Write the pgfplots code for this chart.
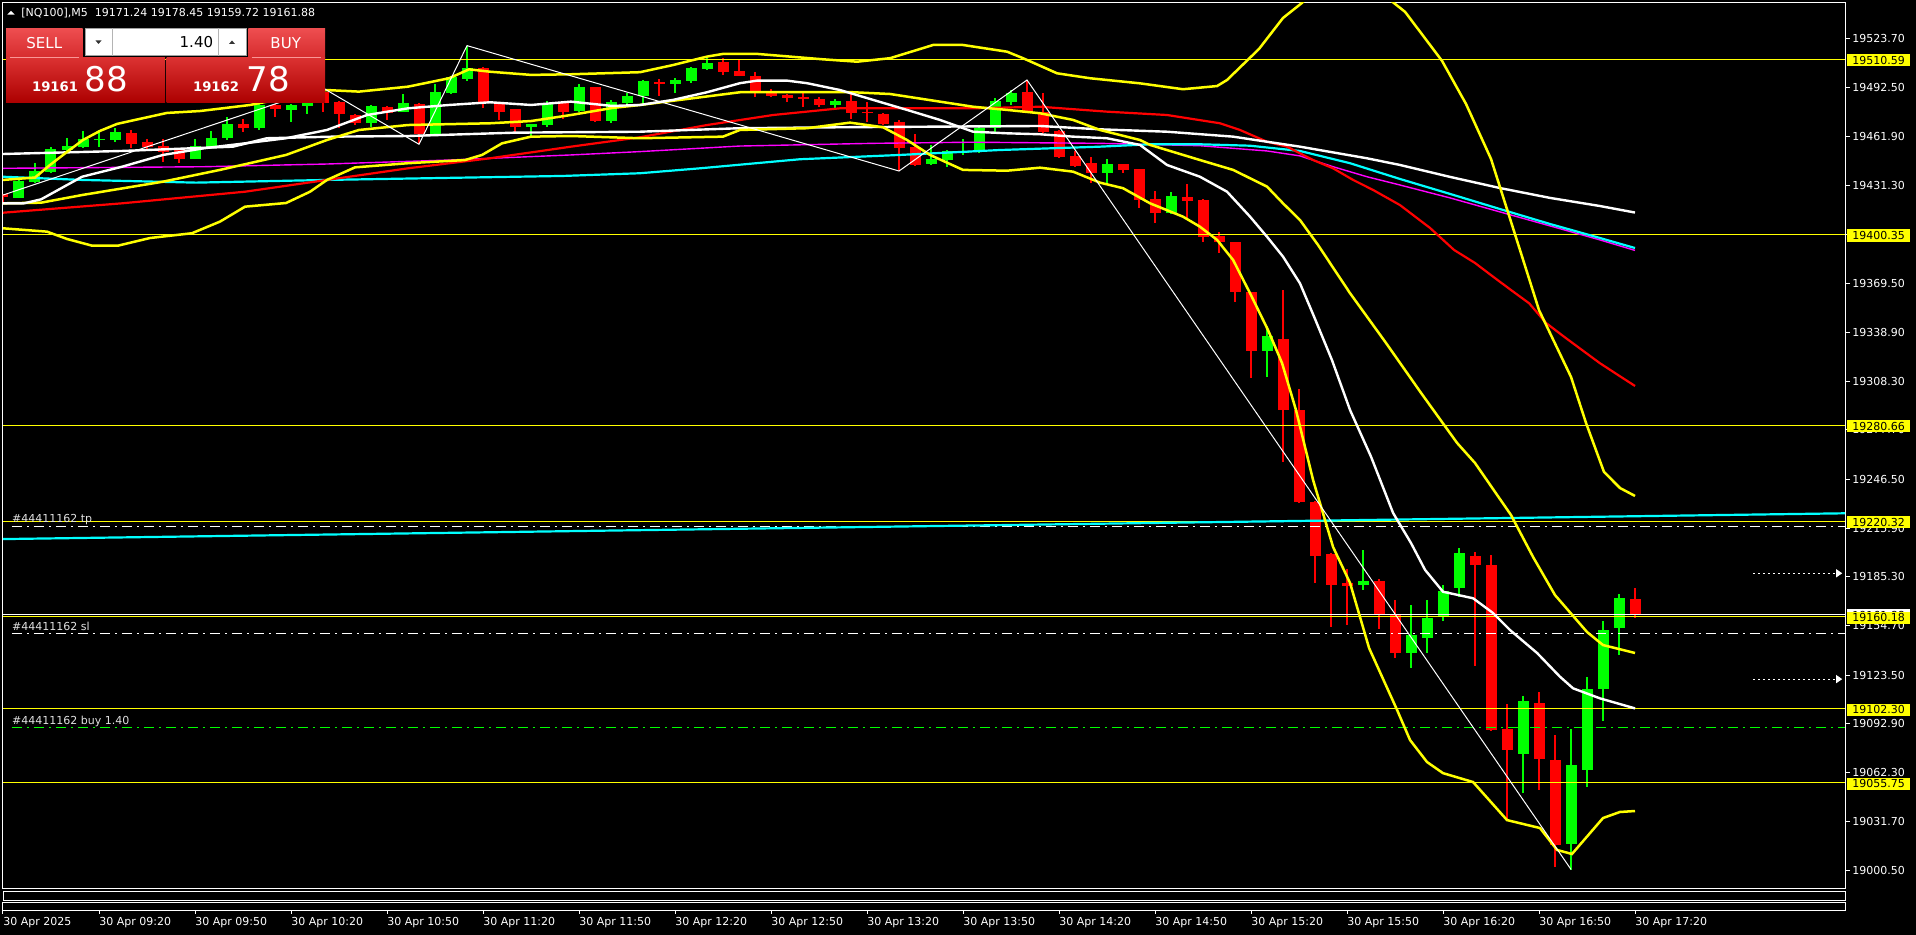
\documentclass[border=0pt]{standalone}
\usepackage{pgfplots}
\pgfplotsset{compat=1.18}
\usepackage{pgfplotstable}
\usepackage{fontspec}
\setmainfont{DejaVu Sans}
\usetikzlibrary{arrows.meta}
\newcommand\mtf{\fontsize{5.5pt}{6.5pt}\selectfont}
\definecolor{mtlime}{RGB}{0,255,0}
\definecolor{mtred}{RGB}{255,0,0}
\definecolor{mtyel}{RGB}{255,255,0}
\definecolor{mtcyan}{RGB}{0,255,255}
\definecolor{mtmag}{RGB}{255,0,255}
\definecolor{lbl}{RGB}{225,225,225}
\definecolor{btnA}{RGB}{238,78,80}
\definecolor{btnB}{RGB}{214,44,46}
\definecolor{lowA}{RGB}{220,50,50}
\definecolor{lowB}{RGB}{172,0,0}

\pgfplotstableread{
i o h l c
0 19425.7 19426.3 19421.0 19424.2
1 19423.6 19434.7 19423.2 19434.0
2 19433.6 19445.2 19432.6 19440.3
3 19439.9 19455.2 19438.9 19454.2
4 19453.5 19460.9 19453.0 19456.0
5 19455.2 19465.5 19454.6 19460.4
6 19460.0 19466.1 19455.2 19460.6
7 19459.8 19467.2 19458.7 19464.8
8 19464.0 19466.5 19454.6 19457.3
9 19458.6 19460.4 19453.5 19455.2
10 19456.0 19460.4 19446.2 19452.5
11 19454.6 19455.2 19445.5 19447.9
12 19447.9 19460.2 19447.9 19456.0
13 19455.6 19465.7 19455.2 19461.1
14 19460.9 19474.1 19460.2 19469.9
15 19470.1 19473.0 19465.0 19467.5
16 19467.2 19484.0 19466.1 19481.8
17 19481.8 19482.5 19474.5 19479.1
18 19478.7 19482.5 19471.3 19481.8
19 19481.0 19486.0 19476.0 19484.0
20 19490.0 19492.5 19477.6 19483.1
21 19483.9 19484.5 19467.2 19476.2
22 19475.5 19476.0 19469.2 19470.7
23 19470.7 19481.8 19467.8 19481.2
24 19480.4 19481.0 19472.4 19477.0
25 19477.6 19488.7 19477.6 19483.3
26 19482.4 19482.8 19457.1 19463.6
27 19463.6 19495.4 19463.0 19490.2
28 19489.2 19500.0 19489.0 19499.2
29 19498.0 19519.1 19497.0 19504.9
30 19504.9 19505.5 19479.7 19483.9
31 19482.4 19483.9 19472.4 19477.6
32 19479.1 19479.5 19465.0 19468.2
33 19468.2 19470.0 19460.9 19469.9
34 19469.2 19484.5 19468.2 19483.3
35 19483.3 19484.0 19473.4 19477.6
36 19478.2 19495.0 19477.6 19492.9
37 19492.9 19493.5 19471.5 19471.9
38 19471.9 19485.0 19470.7 19483.9
39 19483.3 19489.2 19482.5 19487.5
40 19487.5 19497.5 19481.8 19496.9
41 19496.5 19498.2 19487.5 19495.4
42 19495.0 19499.0 19489.2 19497.5
43 19497.1 19505.9 19495.8 19505.3
44 19504.4 19511.2 19504.0 19508.4
45 19508.8 19511.2 19500.7 19502.5
46 19503.2 19510.7 19500.0 19500.2
47 19500.0 19502.4 19487.0 19489.5
48 19489.2 19491.7 19486.6 19487.7
49 19488.1 19488.5 19483.9 19486.4
50 19487.0 19490.2 19480.7 19485.4
51 19485.4 19487.0 19480.7 19481.8
52 19481.8 19485.6 19480.1 19484.3
53 19484.3 19489.8 19473.4 19477.0
54 19477.6 19483.9 19471.3 19476.6
55 19476.2 19477.0 19469.5 19469.9
56 19471.3 19472.4 19440.3 19455.0
57 19455.2 19463.6 19443.5 19444.1
58 19444.7 19456.7 19444.1 19447.9
59 19447.2 19453.5 19443.0 19452.9
60 19452.3 19460.4 19450.4 19452.9
61 19452.1 19468.6 19451.8 19467.5
62 19467.5 19486.0 19465.0 19484.3
63 19483.9 19491.2 19481.8 19489.5
64 19490.2 19497.5 19476.5 19477.0
65 19477.6 19489.2 19464.0 19465.0
66 19465.5 19466.0 19448.3 19449.3
67 19449.8 19452.9 19443.0 19443.5
68 19445.2 19449.3 19432.6 19438.9
69 19439.3 19447.9 19432.6 19444.7
70 19444.7 19445.0 19438.9 19441.0
71 19441.6 19442.0 19416.9 19422.5
72 19422.7 19427.8 19407.8 19413.7
73 19413.7 19427.1 19413.5 19424.6
74 19424.0 19432.2 19409.5 19421.7
75 19422.1 19422.5 19395.9 19399.0
76 19399.5 19402.2 19389.0 19395.9
77 19395.5 19396.0 19358.2 19364.1
78 19364.1 19364.5 19310.0 19327.4
79 19327.4 19342.9 19311.0 19336.6
80 19334.5 19365.5 19257.6 19290.1
81 19290.1 19303.1 19231.5 19232.5
82 19232.5 19233.0 19181.2 19198.5
83 19199.6 19200.0 19153.9 19180.1
84 19181.2 19190.6 19155.0 19179.7
85 19180.1 19202.1 19177.0 19182.6
86 19182.6 19184.3 19152.9 19161.3
87 19161.7 19170.7 19134.4 19137.6
88 19137.6 19167.6 19128.2 19148.7
89 19147.0 19170.7 19137.6 19159.6
90 19160.0 19180.1 19157.5 19176.4
91 19178.4 19203.2 19172.8 19200.4
92 19198.4 19201.1 19129.2 19192.7
93 19192.7 19198.9 19088.6 19089.0
94 19089.6 19105.3 19032.4 19076.4
95 19073.9 19110.4 19049.6 19107.2
96 19106.2 19113.1 19051.7 19070.6
97 19070.1 19085.8 19003.1 19016.7
98 19017.3 19090.0 19001.4 19067.0
99 19063.9 19122.1 19053.0 19114.8
100 19114.8 19157.5 19094.8 19151.8
101 19153.3 19174.5 19136.1 19172.1
102 19171.24 19178.45 19159.72 19161.88
}\candles

\begin{document}
\begin{tikzpicture}
\fill[black] (0,0) rectangle (958pt,467.5pt);
\begin{axis}[
  at={(1.5pt,23pt)}, anchor=south west, scale only axis,
  width=921pt, height=443pt,
  xmin=0, xmax=115.125, ymin=18989.1, ymax=19545.9,
  axis line style={white, line width=0.5pt},
  xtick=\empty,
  ytick={19000.50,19031.70,19062.30,19092.90,19123.50,19154.70,19185.30,19215.90,19246.50,19277.70,19308.30,19338.90,19369.50,19400.70,19431.30,19461.90,19492.50,19523.70},
  yticklabels={19000.50,19031.70,19062.30,19092.90,19123.50,19154.70,19185.30,19215.90,19246.50,19277.70,19308.30,19338.90,19369.50,19400.70,19431.30,19461.90,19492.50,19523.70},
  ytick pos=right, yticklabel pos=right,
  tick align=outside, major tick length=2.5pt,
  tick style={white, line width=0.5pt},
  yticklabel style={font=\mtf, text=white, anchor=west, inner sep=0pt, xshift=1pt},
  clip=true,
]
% wicks
\addplot[draw=none, mark=none, restrict expr to domain={\thisrow{c}-\thisrow{o}}{0:100000},
  error bars/.cd, y dir=both, y explicit, error mark=none,
  error bar style={draw=mtlime, line width=0.55pt}]
  table[x=i, y expr={(\thisrow{h}+\thisrow{l})/2}, y error expr={(\thisrow{h}-\thisrow{l})/2}] {\candles};
\addplot[draw=none, mark=none, restrict expr to domain={\thisrow{c}-\thisrow{o}}{-100000:0},
  error bars/.cd, y dir=both, y explicit, error mark=none,
  error bar style={draw=mtred, line width=0.55pt}]
  table[x=i, y expr={(\thisrow{h}+\thisrow{l})/2}, y error expr={(\thisrow{h}-\thisrow{l})/2}] {\candles};
% bodies
\addplot[draw=none, mark=none, restrict expr to domain={\thisrow{c}-\thisrow{o}}{0:100000},
  error bars/.cd, y dir=both, y explicit, error mark=none,
  error bar style={draw=mtlime, line width=5.5pt}]
  table[x=i, y expr={(\thisrow{o}+\thisrow{c})/2}, y error expr={max(abs(\thisrow{c}-\thisrow{o})/2,0.32)}] {\candles};
\addplot[draw=none, mark=none, restrict expr to domain={\thisrow{c}-\thisrow{o}}{-100000:0},
  error bars/.cd, y dir=both, y explicit, error mark=none,
  error bar style={draw=mtred, line width=5.5pt}]
  table[x=i, y expr={(\thisrow{o}+\thisrow{c})/2}, y error expr={max(abs(\thisrow{c}-\thisrow{o})/2,0.32)}] {\candles};

% horizontal price lines
\addplot[mtyel, line width=0.5pt] coordinates {(0,19510.59) (115.125,19510.59)};
\addplot[mtyel, line width=0.5pt] coordinates {(0,19400.35) (115.125,19400.35)};
\addplot[mtyel, line width=0.5pt] coordinates {(0,19280.66) (115.125,19280.66)};
\addplot[mtyel, line width=0.5pt] coordinates {(0,19220.32) (115.125,19220.32)};
\addplot[white, line width=0.5pt] coordinates {(0,19161.88) (115.125,19161.88)};
\addplot[mtyel, line width=0.5pt] coordinates {(0,19160.18) (115.125,19160.18)};
\addplot[mtyel, line width=0.5pt] coordinates {(0,19102.30) (115.125,19102.30)};
\addplot[mtyel, line width=0.5pt] coordinates {(0,19055.75) (115.125,19055.75)};
% trade levels
\addplot[white, line width=0.5pt, dash pattern=on 5pt off 2.5pt on 1pt off 2.5pt] coordinates {(0.55,19216.9) (115.125,19216.9)};
\addplot[white, line width=0.5pt, dash pattern=on 5pt off 2.5pt on 1pt off 2.5pt] coordinates {(0.55,19149.9) (115.125,19149.9)};
\addplot[mtlime, line width=0.5pt, dash pattern=on 5pt off 2.5pt on 1pt off 2.5pt] coordinates {(0.55,19090.3) (115.125,19090.3)};
% lower cyan step line
\addplot[mtcyan, line width=1.1pt] coordinates {(0,19209.0) (115.125,19225.2)};

% magenta MA
\addplot[mtmag, line width=0.7pt] coordinates {(0,19442.0) (12.56,19443.0) (20.25,19444.7) (27.88,19447.2) (35.5,19450.4) (39.81,19452.5) (46.06,19456.0) (54.38,19457.7) (60.63,19458.4) (68.56,19457.7) (74.81,19456.2) (79,19452.9) (81.06,19449.8) (83.13,19443.0) (85.25,19436.7) (87.31,19431.5) (90.44,19423.4) (93.56,19414.6) (96.69,19405.8) (99.81,19397.0) (102,19390.4)};
% cyan MA
\addplot[mtcyan, line width=1.1pt] coordinates {(0,19436.7) (4.94,19434.7) (12.06,19433.0) (20.25,19434.7) (35,19437.2) (39.81,19438.9) (43.56,19442.0) (49.81,19447.7) (56.06,19450.4) (62.31,19453.5) (68.56,19455.6) (71.69,19457.1) (74.81,19457.1) (77.94,19456.2) (81.06,19452.9) (84.19,19445.2) (87.31,19435.3) (90.44,19425.9) (93.56,19416.4) (96.69,19407.0) (99.81,19398.2) (102,19391.9)};
% red MA
\addplot[mtred, line width=1.1pt] coordinates {(0,19414.1) (7.44,19420.0) (15.13,19427.3) (20.25,19434.7) (25.31,19442.0) (30.44,19448.3) (35.5,19455.6) (39.81,19461.5) (44,19469.2) (48.13,19475.5) (52.31,19479.7) (60.63,19479.7) (64.81,19480.7) (69,19477.6) (72.75,19475.5) (76.06,19470.3) (77.31,19466.1) (79,19458.7) (80.25,19455.6) (81.88,19447.2) (83.13,19442.0) (84.38,19434.7) (85.63,19428.4) (87.31,19418.9) (89.19,19404.5) (90.69,19390.7) (92,19382.5) (93.13,19373.9) (94.25,19365.5) (95.38,19357.2) (96.44,19344.8) (97.56,19336.2) (98.69,19327.8) (99.81,19319.5) (100.94,19312.1) (102,19305.2)};
% white slow MA
\addplot[white, line width=1.2pt] coordinates {(0,19451.0) (7.44,19452.9) (14.38,19455.6) (16.5,19460.9) (20.63,19461.9) (25.31,19462.3) (31.94,19464.4) (39.81,19465.0) (46.06,19467.2) (52.31,19467.8) (58.56,19468.2) (64.81,19468.6) (68.56,19466.5) (72.75,19465.0) (76.88,19461.9) (81.06,19455.6) (85.25,19448.3) (87.31,19444.1) (90.44,19436.6) (93.56,19429.6) (96.69,19423.4) (99.81,19418.3) (102,19414.2)};
% Bollinger bands (yellow)
\addplot[mtyel, line width=1.25pt] coordinates {(0,19434.7) (2,19436.2) (2.94,19444.1) (4,19452.3) (5,19459.8) (6.06,19465.5) (7.13,19469.9) (8.25,19472.4) (10.25,19476.8) (12.31,19478.0) (14.38,19480.5) (15.44,19481.8) (20.19,19491.2) (22.25,19490.2) (25.31,19493.3) (27.88,19498.6) (29.13,19504.2) (30.44,19502.7) (33,19500.7) (35.5,19501.1) (39.81,19502.4) (41.88,19506.9) (44,19512.2) (45,19513.9) (47.13,19513.9) (49.19,19512.2) (51.25,19510.5) (53.38,19509.0) (55.44,19511.2) (57.13,19516.4) (58.13,19519.5) (60,19519.5) (62.75,19515.3) (63.75,19511.2) (65.88,19501.7) (67.94,19498.6) (71.06,19495.4) (73.75,19491.7) (75.88,19493.7) (76.5,19497.5) (78.5,19517.0) (80,19536.5) (81.13,19545.5) (82.63,19559.1) (84.19,19563.5) (85.75,19555.3) (87.63,19540.3) (89.94,19509.5) (91.44,19482.4) (93,19447.9) (94.81,19390.7) (96,19352.9) (98,19310.9) (98.94,19281.9) (100.06,19251.2) (101.06,19241.1) (102,19236.1)};
\addplot[mtyel, line width=1.25pt] coordinates {(0,19420.0) (2.38,19420.4) (4.94,19425.2) (10,19433.6) (13.56,19441.0) (17.69,19450.4) (20.25,19459.8) (22.25,19466.1) (25.31,19469.2) (30.44,19470.3) (33,19471.7) (35.5,19475.5) (38.06,19479.9) (39.81,19481.8) (46.06,19489.8) (53.13,19489.8) (55.44,19488.7) (60.63,19480.7) (62.75,19478.7) (64.81,19476.6) (66.88,19472.4) (68.56,19466.1) (71.06,19459.8) (71.69,19456.7) (74.81,19447.2) (76.88,19441.0) (79,19430.5) (80,19420.0) (81.06,19409.5) (82.19,19393.8) (84.19,19363.5) (86.44,19332.2) (88.63,19300.8) (90.88,19269.4) (92,19256.8) (94.25,19224.1) (95.63,19197.7) (97,19173.8) (99,19150.6) (100,19142.4) (102,19137.4)};
\addplot[mtyel, line width=1.25pt] coordinates {(0,19404.3) (2.75,19402.2) (4,19397.6) (5.56,19393.4) (7.19,19393.4) (9.19,19398.2) (11.81,19401.2) (13.56,19408.5) (15.13,19417.9) (17.69,19420.2) (19.19,19427.3) (20.25,19434.7) (22,19442.6) (25.31,19445.2) (28.88,19447.2) (29.94,19450.4) (31.19,19457.7) (33,19461.9) (35.5,19462.3) (39.81,19460.9) (45,19461.9) (46.06,19466.1) (50.25,19467.2) (52.94,19470.7) (55,19467.8) (56.5,19459.8) (57.94,19450.4) (60,19441.0) (62.75,19440.5) (64.81,19442.4) (66.88,19439.9) (68.56,19433.0) (70,19429.5) (71.69,19420.0) (73.75,19411.6) (74.81,19405.3) (75.88,19397.0) (76.88,19384.4) (77.94,19363.5) (79.06,19340.4) (79.94,19319.6) (80.81,19290.1) (81.88,19246.1) (83.13,19204.0) (84.19,19181.4) (85.38,19140.5) (87.13,19101.6) (87.94,19082.7) (89,19068.9) (90,19061.9) (91.88,19056.3) (94,19032.4) (96.06,19027.4) (97.13,19013.6) (98.06,19011.1) (100,19033.7) (101.06,19037.5) (102,19038.1)};
% white fast MA
\addplot[white, line width=1.2pt] coordinates {(0,19420.0) (1.31,19420.0) (2.38,19422.5) (4.94,19436.7) (7.44,19443.0) (10,19450.4) (12.56,19454.6) (15.13,19457.7) (17.69,19460.9) (20.25,19466.1) (22.75,19475.5) (25.31,19479.7) (27.88,19481.8) (30.44,19483.5) (33,19481.8) (35.5,19483.9) (38.06,19481.2) (39.81,19481.8) (41.88,19485.0) (44,19489.8) (46.06,19495.5) (47.13,19497.1) (49,19497.1) (50.25,19495.5) (52.31,19491.2) (54.38,19485.0) (56.5,19478.7) (58.56,19472.4) (60.63,19465.0) (62.75,19464.0) (64.81,19463.4) (66.88,19461.9) (69,19460.9) (71.06,19456.7) (72.75,19444.1) (74.81,19436.7) (76.5,19427.3) (77.94,19411.6) (79,19399.0) (80,19386.5) (81.06,19369.7) (81.94,19348.8) (83.06,19321.5) (84.19,19290.1) (85.5,19260.8) (86.88,19225.4) (88,19206.5) (88.88,19189.6) (90,19175.9) (91.88,19171.8) (93.13,19162.5) (94.19,19151.8) (95.88,19137.4) (97.31,19122.5) (98.13,19115.2) (99.81,19108.9) (102,19102.6)};
% zigzag
\addplot[white, line width=0.5pt] coordinates {(0,19425.2) (20,19492.5) (26,19457.1) (29,19519.1) (56,19440.3) (64,19497.5) (98,19001.4)};
% dotted arrows at right
\addplot[white, line width=0.5pt, dash pattern=on 1pt off 1.5pt, -{Triangle[length=3pt,width=4pt]}] coordinates {(109.4,19187.5) (114.95,19187.5)};
\addplot[white, line width=0.5pt, dash pattern=on 1pt off 1.5pt, -{Triangle[length=3pt,width=4pt]}] coordinates {(109.4,19121.0) (114.95,19121.0)};
% trade labels
\node[anchor=base west, inner sep=0pt, font=\mtf, text=lbl] at (axis cs:0.55,19219.4) {\#44411162 tp};
\node[anchor=base west, inner sep=0pt, font=\mtf, text=lbl] at (axis cs:0.55,19151.5) {\#44411162 sl};
\node[anchor=base west, inner sep=0pt, font=\mtf, text=lbl] at (axis cs:0.55,19092.5) {\#44411162 buy 1.40};
% label anchors
\coordinate (Q1) at (axis cs:115.125,19510.59);
\coordinate (Q2) at (axis cs:115.125,19400.35);
\coordinate (Q3) at (axis cs:115.125,19280.66);
\coordinate (Q4) at (axis cs:115.125,19220.32);
\coordinate (QB) at (axis cs:115.125,19161.88);
\coordinate (Q5) at (axis cs:115.125,19160.18);
\coordinate (Q6) at (axis cs:115.125,19102.30);
\coordinate (Q7) at (axis cs:115.125,19055.75);
\end{axis}

% bottom sub-window with time axis
\begin{axis}[
  at={(1.5pt,12pt)}, anchor=south west, scale only axis,
  width=921pt, height=4pt,
  xmin=0, xmax=115.125, ymin=0, ymax=1,
  axis line style={white, line width=0.5pt},
  ytick=\empty,
  xtick={0,6,...,102},
  xticklabels={30 Apr 2025,30 Apr 09:20,30 Apr 09:50,30 Apr 10:20,30 Apr 10:50,30 Apr 11:20,30 Apr 11:50,30 Apr 12:20,30 Apr 12:50,30 Apr 13:20,30 Apr 13:50,30 Apr 14:20,30 Apr 14:50,30 Apr 15:20,30 Apr 15:50,30 Apr 16:20,30 Apr 16:50,30 Apr 17:20},
  xtick pos=bottom,
  tick align=outside, major tick length=1.5pt,
  tick style={white, line width=0.5pt},
  xticklabel style={font=\mtf, text=white, anchor=north west, inner sep=0pt, yshift=-1.5pt},
]
\end{axis}

% price label boxes on the right axis
\foreach \q/\t in {QB/19161.88}{
  \fill[white] ([xshift=1pt,yshift=-3.6pt]\q) rectangle ([xshift=32.5pt,yshift=2.6pt]\q);
  \node[anchor=west, inner sep=0pt, font=\mtf, text=black] at ([xshift=3.5pt,yshift=-0.5pt]\q) {\t};
}
\foreach \q/\t in {Q1/19510.59,Q2/19400.35,Q3/19280.66,Q4/19220.32,Q5/19160.18,Q6/19102.30,Q7/19055.75}{
  \fill[mtyel] ([xshift=1pt,yshift=-3.6pt]\q) rectangle ([xshift=32.5pt,yshift=2.6pt]\q);
  \node[anchor=west, inner sep=0pt, font=\mtf, text=black] at ([xshift=3.5pt,yshift=-0.5pt]\q) {\t};
}

% overlay in pixel coordinates (y downward)
\begin{scope}[x=0.5pt,y=-0.5pt,shift={(0pt,467.5pt)}]
  \draw[white, line width=0.5pt] (3,892) rectangle (1845,901);
  % header
  \fill[white] (7.3,14.7) -- (14.7,14.7) -- (11,11) -- cycle;
  \node[anchor=base west, inner sep=0pt, font=\mtf, text=white] at (21,16.7) {[NQ100],M5\ \ 19171.24 19178.45 19159.72 19161.88};
  % one-click trading panel
  \shade[top color=btnA, bottom color=btnB] (6,28.3) rectangle (82.7,57.3);
  \shade[top color=btnA, bottom color=btnB] (248.3,28.3) rectangle (325,57.3);
  \shade[top color=lowA, bottom color=lowB] (6,57.3) rectangle (165,102.7);
  \shade[top color=lowA, bottom color=lowB] (166.7,57.3) rectangle (325,102.7);
  \draw[color={rgb,255:red,250;green,150;blue,150}, line width=0.5pt] (10,57.5) -- (79,57.5);
  \draw[color={rgb,255:red,250;green,150;blue,150}, line width=0.5pt] (252,57.5) -- (321,57.5);
  \fill[white] (85,28.3) rectangle (246,56);
  \draw[color={rgb,255:red,160;green,160;blue,160}, line width=0.5pt] (85,28.3) rectangle (246,56);
  \draw[color={rgb,255:red,180;green,180;blue,180}, line width=0.5pt] (112.7,28.3) -- (112.7,56) (218.3,28.3) -- (218.3,56);
  \fill[black!80] (95.5,40.5) -- (101.5,40.5) -- (98.5,44) -- cycle;
  \fill[black!80] (229,44) -- (235,44) -- (232,40.5) -- cycle;
  \node[anchor=base east, inner sep=0pt, font=\fontsize{7.5pt}{8pt}\selectfont, text=black] at (213.5,48) {1.40};
  \node[anchor=base, inner sep=0pt, font=\fontsize{7.5pt}{8pt}\selectfont, text=white] at (44.3,48.3) {SELL};
  \node[anchor=base, inner sep=0pt, font=\fontsize{7.5pt}{8pt}\selectfont, text=white] at (285.7,48.3) {BUY};
  \node[anchor=base west, inner sep=0pt, font=\fontsize{6.6pt}{7pt}\selectfont\bfseries, text=white] at (31.7,91.7) {19161};
  \node[anchor=base west, inner sep=0pt, font=\fontsize{17pt}{18pt}\selectfont, text=white] at (84,91.7) {88};
  \node[anchor=base west, inner sep=0pt, font=\fontsize{6.6pt}{7pt}\selectfont\bfseries, text=white] at (192.7,91.7) {19162};
  \node[anchor=base west, inner sep=0pt, font=\fontsize{17pt}{18pt}\selectfont, text=white] at (246,91.7) {78};
\end{scope}
\pgfresetboundingbox
\path[use as bounding box] (0,0) rectangle (958pt,467.5pt);
\end{tikzpicture}
\end{document}
